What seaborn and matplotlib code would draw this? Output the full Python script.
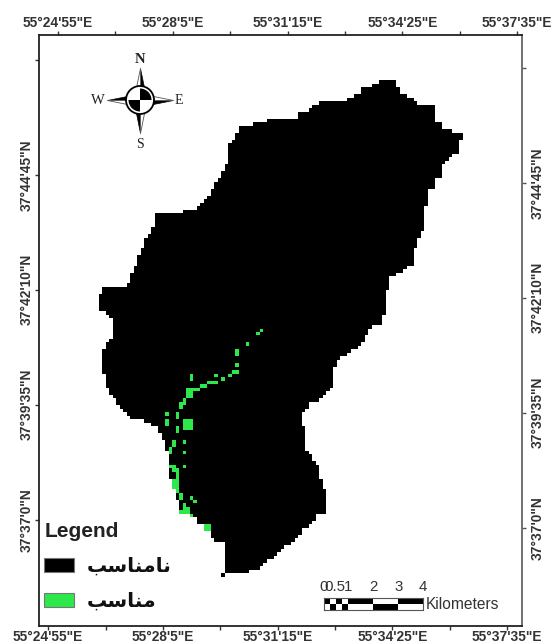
import numpy as np
import pandas as pd
import seaborn as sns
import matplotlib
matplotlib.use('Agg')
import matplotlib.pyplot as plt
from matplotlib.colors import ListedColormap
from matplotlib.patches import Patch, Polygon, Circle, Wedge

BLACK = '#000000'
GREEN = '#2ce84a'

# raster size of the map
N_ROWS = 169
N_COLS = 138
FIRST_ROW = 13

# first and last+1 black column of every raster row, from FIRST_ROW down
LEFT_COL = [97, 95, 92, 92, 90, 88, 80, 78, 77, 74, 74, 65, 61, 57, 57, 56, 56, 55,
            54, 54, 54, 54, 54, 54, 53, 53, 52, 52, 51, 50, 50, 49, 49, 48, 47, 46, 45, 41,
            33, 33, 33, 33, 32, 32, 31, 30, 30, 30, 29, 29, 28, 28, 28, 27, 27, 26, 26, 26, 25,
            18, 18, 17, 17, 17, 17, 17, 19, 20, 21, 21, 21, 21, 21, 21, 20, 19, 19,
            18, 18, 18, 18, 18, 18, 18, 19, 19, 19, 19, 20, 20, 21, 22, 22, 23, 24, 25, 26, 30, 32,
            34, 34, 35, 35, 36, 36, 36, 37, 37, 37, 37, 37, 37, 37, 37, 38, 38, 38,
            39, 39, 39, 40, 40, 40, 42, 43, 45, 45, 47, 47, 49, 49, 50,
            53, 53, 53, 53, 53, 53, 53, 53, 53, 52]
RIGHT_COL = [102, 102, 103, 103, 105, 107, 108, 113, 113, 113, 113, 113, 115, 115, 118, 121, 121,
             120, 120, 120, 120, 118, 117, 116, 115, 115, 115, 115, 113, 113, 113,
             111, 111, 111, 111, 111, 110, 110, 110, 110, 110, 110, 110, 109, 109,
             108, 108, 108, 107, 107, 107, 107, 107, 105, 104, 102, 100, 100, 100, 100,
             99, 99, 99, 99, 99, 99, 99, 98, 98, 98, 95, 94, 94, 93, 93, 92, 91, 89, 88, 86, 85, 85,
             84, 84, 84, 84, 84, 84, 83, 82, 81, 80, 77, 77, 76, 75, 75, 75, 75,
             76, 76, 76, 76, 76, 76, 76, 77, 78, 78, 79, 80, 80, 80, 80, 81, 81, 81,
             82, 82, 82, 82, 82, 82, 82, 79, 79, 78, 77, 75, 75, 74, 73, 72, 70, 69, 68, 67, 65, 64, 63, 60, 53]

# suitable (green) raster cells
GREEN_ROWS = [84, 85, 88, 90, 91, 94, 96, 96, 97, 98, 97, 99, 99, 99, 100, 100, 101, 101, 101, 97, 98,
              101, 102, 102, 103, 103, 104, 105, 105, 106, 108, 108, 109, 110, 111, 110, 110, 110, 111, 111, 111,
              112, 112, 112, 112, 113, 116, 117, 116, 118, 119, 119, 123, 123, 123, 124, 124, 125, 126, 127, 128,
              129, 130, 131, 132, 132, 133, 134, 135, 135, 136, 136, 136, 137, 140, 140, 141, 141, 127, 128, 129]
GREEN_COLS = [63, 62, 59, 56, 56, 56, 55, 56, 54, 52, 50, 48, 49, 50, 46, 47, 43, 44, 45, 43, 43,
              42, 42, 43, 42, 43, 41, 41, 40, 40, 36, 39, 39, 36, 36, 41, 42, 43, 41, 42, 43,
              41, 42, 43, 39, 39, 38, 38, 41, 37, 37, 41, 41, 37, 38, 38, 39, 39, 39, 39, 39,
              39, 39, 40, 40, 43, 44, 41, 41, 42, 41, 42, 40, 43, 47, 48, 47, 48, 38, 38, 38]

LON_LABELS = ['55°24\'55"E', '', '55°28\'5"E', '', '55°31\'15"E', '', '55°34\'25"E', '', '55°37\'35"E']
LAT_LABELS = ['', '37°44\'45"N', '37°42\'10"N', '37°39\'35"N', '37°37\'0"N']
CLASS_NAMES = ['\ufe90\ufeb3\ufe8e\ufee8\ufee3\ufe8e\ufee7', '\ufe90\ufeb3\ufe8e\ufee8\ufee3']

SCALE_STEPS = [0, 0.25, 0.5, 0.75, 1, 2, 3, 4]
SCALE_LABELS = [(0, '0'), (0.46, '0.5'), (1, '1'), (2, '2'), (3, '3'), (4, '4')]

sns.set_theme(style='white')
plt.rcParams['font.family'] = ['Liberation Sans', 'DejaVu Sans']

W, H = 551, 644
fig = plt.figure(figsize=(W / 100, H / 100), dpi=100, facecolor='white')
ax = fig.add_axes([39 / W, 1 - 625.5 / H, 483 / W, 590.5 / H])

# fill the raster row by row
grid = np.full((N_ROWS, N_COLS), np.nan)
for i, (a, b) in enumerate(zip(LEFT_COL, RIGHT_COL)):
    grid[FIRST_ROW + i, a:b] = 0
grid[GREEN_ROWS, GREEN_COLS] = 1
sns.heatmap(pd.DataFrame(grid), ax=ax, cmap=ListedColormap([BLACK, GREEN]), vmin=0, vmax=1,
            cbar=False, xticklabels=False, yticklabels=False, square=False)

# frame and graticule ticks, the map is slightly rotated so all four sides differ
for name, sp in ax.spines.items():
    sp.set_visible(True)
    sp.set_linewidth(1.3)
    sp.set_color('#222222' if name != 'right' else '#666666')

tick_col = '#333333'
lab = dict(fontsize=9.9, fontweight='bold', color='#333333')

ax.set_xticks(2.6 + 16.4 * np.arange(9))
ax.set_xticklabels(LON_LABELS, **lab)
ax.set_yticks(7.1 + 32.9 * np.arange(5))
ax.set_yticklabels(LAT_LABELS, rotation=90, va='center', **lab)
ax.tick_params(axis='both', length=3, width=1, color=tick_col, pad=0.5,
               bottom=True, left=True, labelbottom=True, labelleft=True)

top = ax.secondary_xaxis('top')
top.set_xticks(5.4 + 16.4 * np.arange(9))
top.set_xticklabels(LON_LABELS, **lab)
top.tick_params(length=3, width=1, color=tick_col, pad=0.5)
top.spines['top'].set_visible(False)

right = ax.secondary_yaxis('right')
right.set_yticks(9.4 + 32.9 * np.arange(5))
right.set_yticklabels(LAT_LABELS, rotation=90, va='center', **lab)
right.tick_params(length=3, width=1, color='#555555', pad=3.5)
right.spines['right'].set_visible(False)

# legend
handles = [Patch(facecolor=BLACK, edgecolor='#777777', linewidth=0.8),
           Patch(facecolor=GREEN, edgecolor='#777777', linewidth=0.8)]
leg = ax.legend(handles, CLASS_NAMES, title='Legend', loc='lower left',
                bbox_to_anchor=(-0.014, 0.004), frameon=False, alignment='left',
                prop={'family': 'DejaVu Sans', 'weight': 'bold', 'size': 14.5},
                title_fontproperties={'family': 'Liberation Sans', 'weight': 'bold', 'size': 15},
                handlelength=1.49, handleheight=0.72, handletextpad=0.6,
                labelspacing=0.8, borderpad=0.3, borderaxespad=0.3)
leg.get_title().set_color('#222222')
for t in leg.get_texts():
    t.set_color('#111111')

# north arrow, in pixel units around its centre
comp = fig.add_axes([(140 - 45) / W, 1 - (100 + 50) / H, 90 / W, 100 / H])
comp.set_xlim(-45, 45)
comp.set_ylim(-50, 50)
comp.axis('off')
for ang, tip in zip([0, 90, 180, 270], [32, 33, 33, 33]):
    rot = np.deg2rad(ang)
    R = np.array([[np.cos(rot), np.sin(rot)], [-np.sin(rot), np.cos(rot)]])
    dark = np.array([[0, tip], [0, 8], [5, 8]]) @ R.T
    light = np.array([[0, tip], [0, 8], [-5, 8]]) @ R.T
    comp.add_patch(Polygon(dark, closed=True, fc='black', ec='black', lw=0.5))
    comp.add_patch(Polygon(light, closed=True, fc='white', ec='#555555', lw=0.6))
comp.add_patch(Circle((0, 0), 14, fc='white', ec='black', lw=1.3, zorder=3))
comp.add_patch(Wedge((0, 0), 11.5, 0, 90, fc='black', ec='none', zorder=4))
comp.add_patch(Wedge((0, 0), 11.5, 180, 270, fc='black', ec='none', zorder=4))
serif = dict(family='Liberation Serif', color='#222222', ha='center', va='center')
comp.text(0, 41, 'N', fontsize=10.5, fontweight='bold', **serif)
comp.text(0, -44, 'S', fontsize=10, **serif)
comp.text(-42, 0, 'W', fontsize=10.5, **serif)
comp.text(39, 0, 'E', fontsize=10, **serif)

# scale bar, kilometres along x
sb = fig.add_axes([323.5 / W, 1 - 610 / H, 99.5 / W, 12 / H])
for i in range(len(SCALE_STEPS) - 1):
    x0, x1 = SCALE_STEPS[i], SCALE_STEPS[i + 1]
    top_black = i % 2 == 0
    sb.barh(1.5, x1 - x0, left=x0, height=1, color='black' if top_black else 'white', lw=0)
    sb.barh(0.5, x1 - x0, left=x0, height=1, color='white' if top_black else 'black', lw=0)
sb.set_xlim(0, 4)
sb.set_ylim(0, 2)
sb.set_xticks([])
sb.set_yticks([])
for sp in sb.spines.values():
    sp.set_visible(True)
    sp.set_color('#555555')
    sp.set_linewidth(0.8)
for km, txt in SCALE_LABELS:
    sb.text(km, 2.6, txt, ha='center', va='bottom', fontsize=10.8, color='#333333', clip_on=False)
sb.text(4.11, 0.85, 'Kilometers', ha='left', va='center', fontsize=11.2, color='#333333', clip_on=False)

fig.savefig('out.png', dpi=100)
